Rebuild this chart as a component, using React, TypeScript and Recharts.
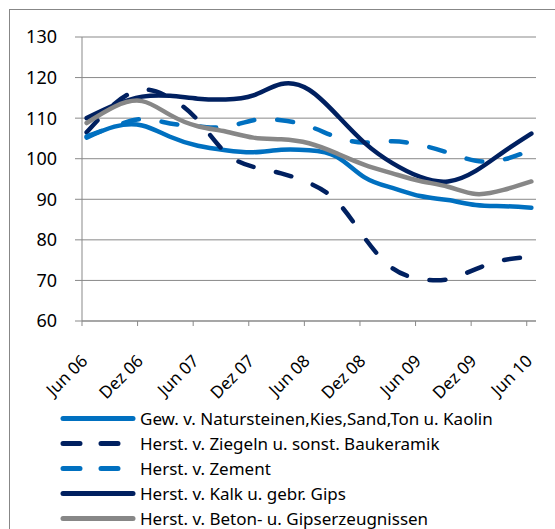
import React from "react";
import {
  LineChart,
  Line,
  XAxis,
  YAxis,
  CartesianGrid,
  Legend,
} from "recharts";

const months = [0, 3, 6, 9, 12, 15, 18, 21, 24, 27, 30, 33, 36, 39, 42, 45, 48];

const natursteine = [105.2, 107.9, 108.2, 105.4, 103.2, 102.1, 101.6, 102.2, 102.1, 100.5, 95.4, 92.8, 90.8, 89.8, 88.6, 88.3, 87.9];
const ziegel = [106.5, 113.5, 117, 115, 109.5, 101.5, 98, 96.4, 94, 89.5, 80.5, 73, 70.4, 70.3, 72.8, 75, 75.8];
const zement = [105.5, 108, 109.8, 108.7, 108, 107.8, 109.5, 109.5, 108, 105.3, 104, 104.3, 103.4, 101.5, 99.5, 99.8, 102.2];
const kalk = [110, 113.2, 115.3, 115.5, 114.8, 114.6, 115.6, 118.4, 117, 110.8, 103.9, 98.9, 95.5, 94.4, 97, 101.7, 106.2];
const beton = [108.8, 112.8, 114.2, 110.8, 108, 106.7, 105.2, 104.8, 103.8, 101.3, 98.5, 96.4, 94.5, 93.1, 91.3, 92.3, 94.4];

const tickLabels = ["Jun 06", "Dez 06", "Jun 07", "Dez 07", "Jun 08", "Dez 08", "Jun 09", "Dez 09", "Jun 10"];
const xTicks = tickLabels.map((_, i) => i * 6 - 0.5);
const yTicks = [60, 70, 80, 90, 100, 110, 120, 130];

const series = [
  { key: "natursteine", name: "Gew. v. Natursteinen,Kies,Sand,Ton u. Kaolin", color: "#0070C0", dash: undefined },
  { key: "ziegel", name: "Herst. v. Ziegeln u. sonst. Baukeramik", color: "#002060", dash: "16 23" },
  { key: "zement", name: "Herst. v. Zement", color: "#0070C0", dash: "16 23" },
  { key: "kalk", name: "Herst. v. Kalk u. gebr. Gips", color: "#002060", dash: undefined },
  { key: "beton", name: "Herst. v. Beton- u. Gipserzeugnissen", color: "#878787", dash: undefined },
];

const data = months.map((m, i) => ({
  m,
  natursteine: natursteine[i],
  ziegel: ziegel[i],
  zement: zement[i],
  kalk: kalk[i],
  beton: beton[i],
}));

const FONT = "'Noto Sans', sans-serif";
const GRID = "#898989";

const XTick = (props: any) => {
  const { x, y, payload } = props;
  const idx = Math.round((payload.value + 0.5) / 6);
  return (
    <g transform={`translate(${x + 6.6},${y + 36})`}>
      <text textAnchor="end" transform="rotate(-45)" fontSize={17} fontFamily={FONT} fill="#000">
        {tickLabels[idx]}
      </text>
    </g>
  );
};

const LegendBox = () => (
  <div style={{ fontFamily: FONT, fontSize: 17, color: "#000" }}>
    {series.map((s) => (
      <div key={s.key} style={{ display: "flex", alignItems: "center", height: 25 }}>
        <svg width={140} height={25} style={{ flex: "none" }}>
          <line
            x1={63}
            x2={s.dash ? 119 : 133}
            y1={12.5}
            y2={12.5}
            stroke={s.color}
            strokeWidth={5}
            strokeLinecap="round"
            strokeDasharray={s.dash ? "17 21" : undefined}
          />
        </svg>
        <span style={{ whiteSpace: "nowrap", lineHeight: "25px" }}>{s.name}</span>
      </div>
    ))}
  </div>
);

export default function App() {
  return (
    <div style={{ position: "fixed", left: 0, top: 0, width: 555, height: 529, overflow: "hidden", background: "#fff" }}>
      <div style={{ position: "absolute", left: 9, top: 9, width: 600, height: 600, border: "1px solid #878787" }} />
      <div style={{ position: "absolute", left: 0, top: 0 }}>
        <LineChart width={555} height={529} data={data} margin={{ top: 37, right: 19, left: 0, bottom: 0 }}>
          <CartesianGrid vertical={false} stroke={GRID} />
          <XAxis
            dataKey="m"
            type="number"
            domain={[-0.5, 48.5]}
            ticks={xTicks}
            interval={0}
            height={208}
            tickSize={5}
            tickMargin={0}
            stroke={GRID}
            tick={<XTick />}
          />
          <YAxis
            type="number"
            domain={[60, 130]}
            ticks={yTicks}
            width={82}
            tickSize={7}
            tickMargin={18}
            stroke={GRID}
            tick={{ fontSize: 18, fontFamily: FONT, fill: "#000" }}
          />
          <Legend
            layout="vertical"
            align="center"
            verticalAlign="middle"
            wrapperStyle={{ left: 0, top: 406, width: 555 }}
            content={() => <LegendBox />}
          />
          {series.map((s) => (
            <Line
              key={s.key}
              dataKey={s.key}
              name={s.name}
              type="natural"
              stroke={s.color}
              strokeWidth={4.5}
              strokeDasharray={s.dash}
              strokeLinecap="round"
              dot={false}
              isAnimationActive={false}
            />
          ))}
        </LineChart>
      </div>
    </div>
  );
}
